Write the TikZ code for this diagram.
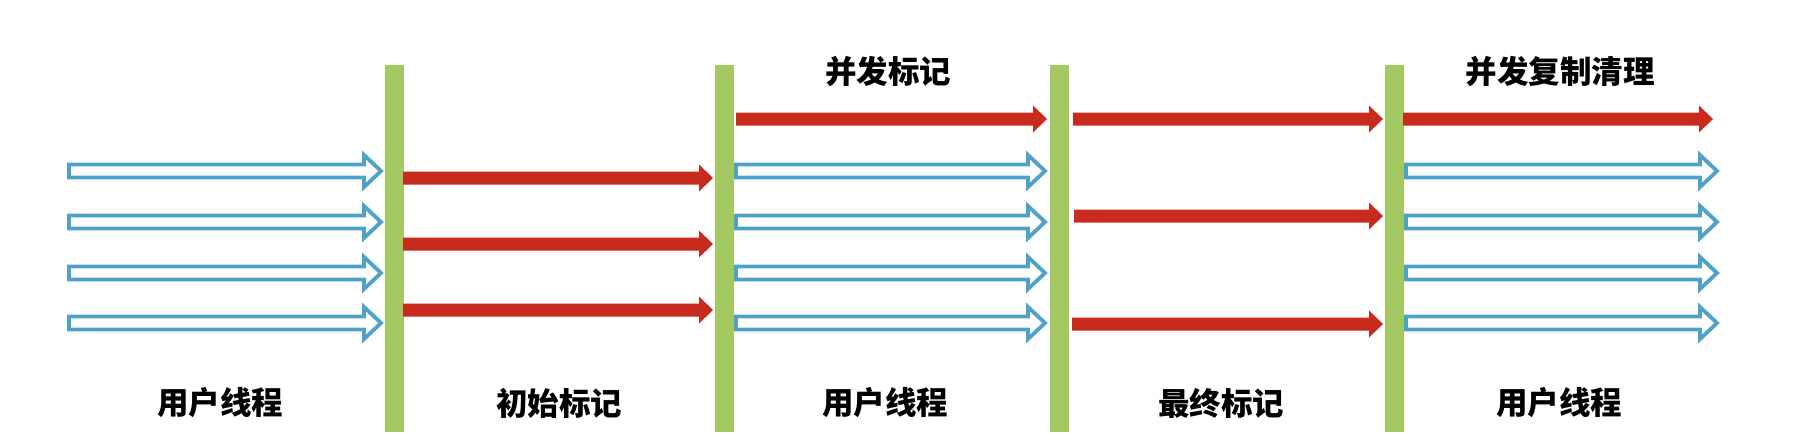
\documentclass[tikz,border=0pt]{standalone}
\usepackage{fontspec}
\newfontfamily\cjk{Noto Sans CJK SC}
\definecolor{barGreen}{RGB}{164,200,98}
\definecolor{arrBlue}{RGB}{78,162,202}
\definecolor{arrRed}{RGB}{200,42,30}
\newcommand\bluearr[3]{%
  \draw[bluearrow] (#1,#3-6.5) -- (#2-17,#3-6.5) -- (#2-17,#3-16) -- (#2,#3) -- (#2-17,#3+16) -- (#2-17,#3+6.5) -- (#1,#3+6.5) -- cycle;}
\newcommand\redarr[3]{%
  \fill[redarrow] (#1,#3-6.5) -- (#2-14,#3-6.5) -- (#2-14,#3-13.5) -- (#2,#3) -- (#2-14,#3+13.5) -- (#2-14,#3+6.5) -- (#1,#3+6.5) -- cycle;}
\tikzset{
  bluearrow/.style={draw=arrBlue, line width=3.8pt, fill=white, line join=miter},
  redarrow/.style={fill=arrRed},
  phasebar/.style={fill=barGreen, draw=none, inner sep=0pt, minimum width=19pt, minimum height=367pt},
  phaselabel/.style={font=\cjk\bfseries\fontsize{31.5}{32}\selectfont, inner sep=0pt, text=black}
}
\begin{document}
\begin{tikzpicture}[x=1pt,y=-1pt]
\useasboundingbox (0,0) rectangle (1794,432);
\fill[white] (0,0) rectangle (1794,432);
% bars
\node[phasebar] (bar1) at (394,248.5) {};
\node[phasebar] (bar2) at (724,248.5) {};
\node[phasebar] (bar3) at (1059,248.5) {};
\node[phasebar] (bar4) at (1394,248.5) {};
% stage 1: user threads
\foreach \y in {171,222,273,323} {\bluearr{69}{381}{\y}}
% stage 2: initial mark
\foreach \y in {178,244,310} {\redarr{403}{713}{\y}}
% stage 3: concurrent mark
\redarr{736}{1047}{119}
\foreach \y in {171,222,273,323} {\bluearr{736}{1045}{\y}}
% stage 4: final mark
\redarr{1073}{1383}{119}
\redarr{1074}{1383}{216}
\redarr{1072}{1383}{324}
% stage 5: concurrent cleanup
\redarr{1403}{1713}{119}
\foreach \y in {171,222,273,323} {\bluearr{1406}{1717}{\y}}
% labels
\node[phaselabel] (l1) at (220,403) {用户线程};
\node[phaselabel] (l2) at (559,403) {初始标记};
\node[phaselabel] (l3) at (885,403) {用户线程};
\node[phaselabel] (l4) at (1221,403) {最终标记};
\node[phaselabel] (l5) at (1559,403) {用户线程};
\node[phaselabel] (t1) at (888,72) {并发标记};
\node[phaselabel] (t2) at (1560,72) {并发复制清理};
\end{tikzpicture}
\end{document}
